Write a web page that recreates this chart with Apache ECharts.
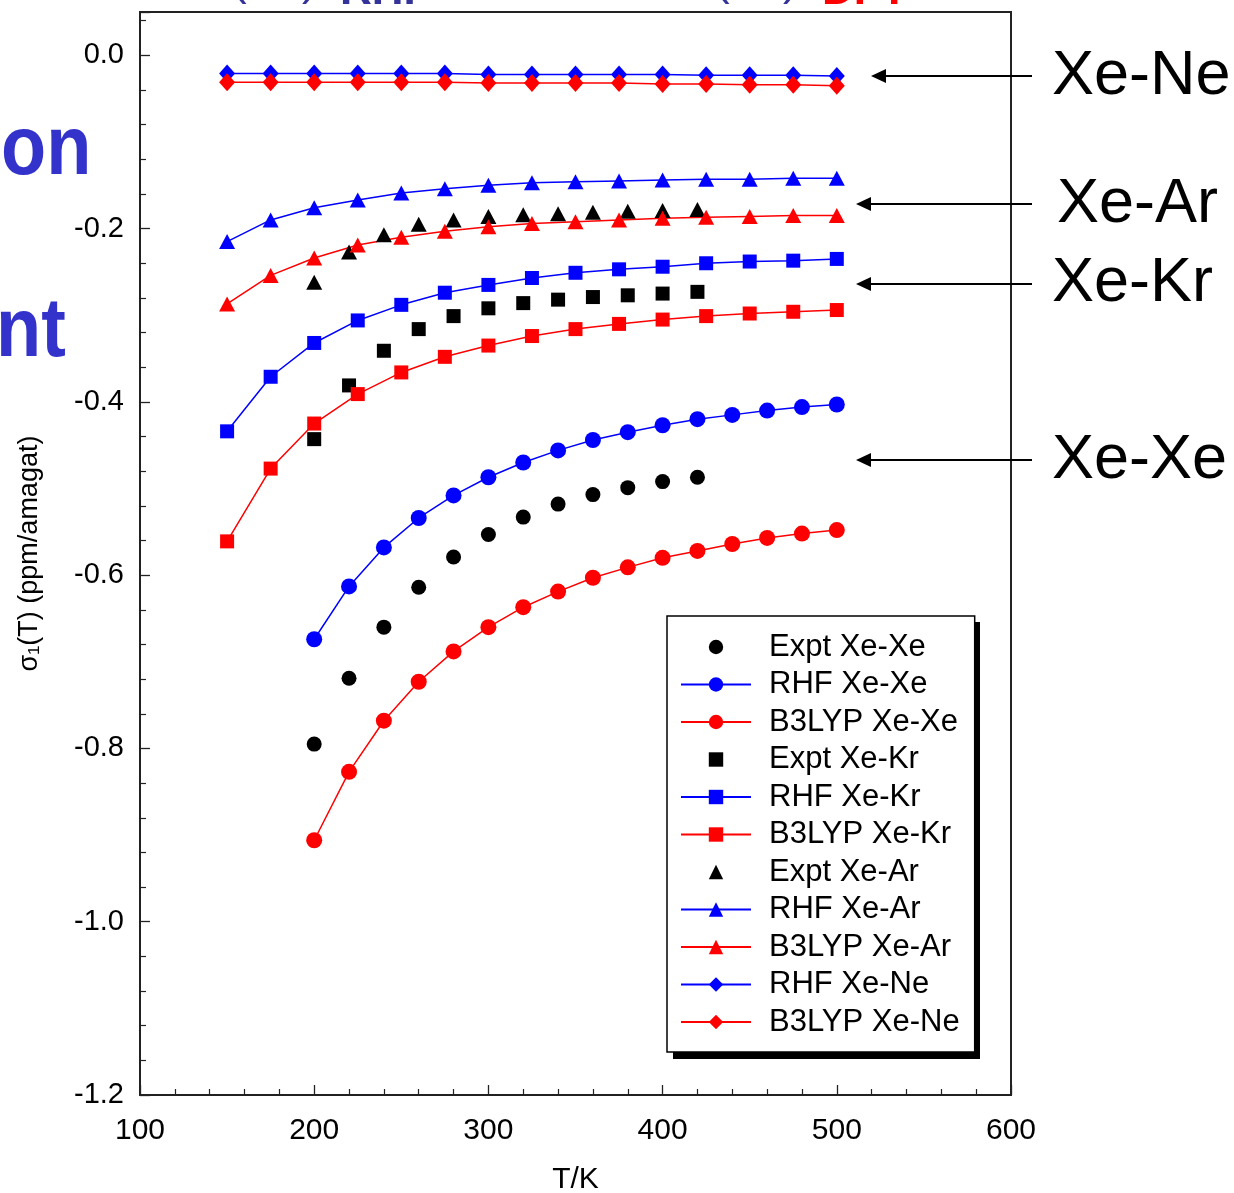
<!DOCTYPE html>
<html>
<head>
<meta charset="utf-8">
<script src="https://cdn.jsdelivr.net/npm/echarts@6/dist/echarts.min.js"></script>
<style>html,body{margin:0;padding:0;background:#fff;}#c{width:1234px;height:1193px;}</style>
</head>
<body>
<div id="c"></div>
<script>
// Temperatures (K)
var T_calc = [150,175,200,225,250,275,300,325,350,375,400,425,450,475,500];
var T_xe   = [200,220,240,260,280,300,320,340,360,380,400,420,440,460,480,500];
var T_expt = [200,220,240,260,280,300,320,340,360,380,400,420];

// Xe-Xe
var exptXeXe  = [-0.795,-0.719,-0.660,-0.614,-0.579,-0.553,-0.533,-0.518,-0.507,-0.499,-0.492,-0.487];
var rhfXeXe   = [-0.674,-0.613,-0.568,-0.534,-0.508,-0.487,-0.470,-0.456,-0.444,-0.435,-0.427,-0.420,-0.415,-0.410,-0.406,-0.403];
var b3lypXeXe = [-0.906,-0.827,-0.768,-0.723,-0.688,-0.660,-0.637,-0.619,-0.603,-0.591,-0.580,-0.572,-0.564,-0.557,-0.552,-0.548];
// Xe-Kr
var exptXeKr  = [-0.443,-0.381,-0.341,-0.316,-0.301,-0.292,-0.286,-0.282,-0.279,-0.277,-0.275,-0.273];
var rhfXeKr   = [-0.434,-0.371,-0.332,-0.306,-0.288,-0.274,-0.265,-0.257,-0.251,-0.247,-0.244,-0.240,-0.238,-0.237,-0.235];
var b3lypXeKr = [-0.561,-0.477,-0.425,-0.391,-0.366,-0.348,-0.335,-0.324,-0.316,-0.310,-0.305,-0.301,-0.298,-0.296,-0.294];
// Xe-Ar
var exptXeAr  = [-0.262,-0.227,-0.207,-0.195,-0.190,-0.186,-0.184,-0.183,-0.181,-0.180,-0.179,-0.178];
var rhfXeAr   = [-0.215,-0.190,-0.176,-0.167,-0.159,-0.154,-0.150,-0.147,-0.146,-0.145,-0.144,-0.143,-0.143,-0.142,-0.142];
var b3lypXeAr = [-0.287,-0.254,-0.234,-0.219,-0.210,-0.203,-0.198,-0.194,-0.192,-0.190,-0.188,-0.187,-0.186,-0.185,-0.185];
// Xe-Ne
var rhfXeNe   = [-0.021,-0.021,-0.021,-0.021,-0.021,-0.021,-0.022,-0.022,-0.022,-0.022,-0.022,-0.023,-0.023,-0.023,-0.024];
var b3lypXeNe = [-0.031,-0.031,-0.031,-0.031,-0.031,-0.031,-0.032,-0.032,-0.032,-0.032,-0.033,-0.033,-0.034,-0.034,-0.035];

var xTicks = [100,200,300,400,500,600];
var yTicks = [-1.2,-1.0,-0.8,-0.6,-0.4,-0.2,0.0];

var FONT = '"Liberation Sans", Arial, sans-serif';
function pairs(xs, ys){ return ys.map(function(v,i){ return [xs[i], v]; }); }

function mk(name, xs, ys, color, symbol, size, expt){
  return {
    name: name, type: 'line', data: pairs(xs, ys),
    symbol: symbol, symbolSize: size, showAllSymbol: true,
    itemStyle: {color: color, opacity: 1},
    lineStyle: {color: color, width: 1.5, opacity: expt ? 0 : 1},
    emphasis: {disabled: true}, silent: true, animation: false, z: 3
  };
}
var BLUE = '#0000ff', RED = '#ff0000', BLACK = '#000000';
var series = [
  mk('Expt Xe-Xe', T_expt, exptXeXe, BLACK, 'circle', 15, true),
  mk('RHF Xe-Xe', T_xe, rhfXeXe, BLUE, 'circle', 16),
  mk('B3LYP Xe-Xe', T_xe, b3lypXeXe, RED, 'circle', 16),
  mk('Expt Xe-Kr', T_expt, exptXeKr, BLACK, 'rect', 14, true),
  mk('RHF Xe-Kr', T_calc, rhfXeKr, BLUE, 'rect', 14),
  mk('B3LYP Xe-Kr', T_calc, b3lypXeKr, RED, 'rect', 14),
  mk('Expt Xe-Ar', T_expt, exptXeAr, BLACK, 'triangle', [16,15], true),
  mk('RHF Xe-Ar', T_calc, rhfXeAr, BLUE, 'triangle', [16,15]),
  mk('B3LYP Xe-Ar', T_calc, b3lypXeAr, RED, 'triangle', [16,15]),
  mk('RHF Xe-Ne', T_calc, rhfXeNe, BLUE, 'diamond', [16,18]),
  mk('B3LYP Xe-Ne', T_calc, b3lypXeNe, RED, 'diamond', [16,18])
];

function arrow(x1, x2, y){
  return [
    {type:'line', shape:{x1:x1, y1:y, x2:x2+12, y2:y}, style:{stroke:'#000', lineWidth:1.8}, silent:true},
    {type:'polygon', shape:{points:[[x2,y],[x2+15,y-7],[x2+15,y+7]]}, style:{fill:'#000'}, silent:true}
  ];
}
var annot = [].concat(
  arrow(1032, 871, 76), arrow(1032, 856, 204), arrow(1032, 856, 284), arrow(1032, 856, 460)
);
var texts = [
  {type:'text', x:1052, y:77, style:{text:'Xe-Ne', font:'63px ' + FONT, fill:'#000', verticalAlign:'middle'}, silent:true},
  {type:'text', x:1057, y:205, style:{text:'Xe-Ar', font:'63px ' + FONT, fill:'#000', verticalAlign:'middle'}, silent:true},
  {type:'text', x:1052, y:284, style:{text:'Xe-Kr', font:'63px ' + FONT, fill:'#000', verticalAlign:'middle'}, silent:true},
  {type:'text', x:1052, y:461, style:{text:'Xe-Xe', font:'63px ' + FONT, fill:'#000', verticalAlign:'middle'}, silent:true},
  {type:'text', x:1, y:151, scaleX:0.88, style:{text:'on', font:'bold 84px ' + FONT, fill:'#3333cc', verticalAlign:'middle'}, silent:true},
  {type:'text', x:-4, y:333, scaleX:0.88, style:{text:'nt', font:'bold 84px ' + FONT, fill:'#3333cc', verticalAlign:'middle'}, silent:true},
  {type:'text', x:232, y:-17, style:{text:'(', font:'44px ' + FONT, fill:'#333399', verticalAlign:'middle'}, silent:true},
  {type:'text', x:302, y:-17, style:{text:')', font:'44px ' + FONT, fill:'#333399', verticalAlign:'middle'}, silent:true},
  {type:'text', x:340, y:-8, style:{text:'RHF', font:'bold 44px ' + FONT, fill:'#333399', verticalAlign:'middle'}, silent:true},
  {type:'text', x:715, y:-17, style:{text:'(', font:'44px ' + FONT, fill:'#333399', verticalAlign:'middle'}, silent:true},
  {type:'text', x:783, y:-17, style:{text:')', font:'44px ' + FONT, fill:'#333399', verticalAlign:'middle'}, silent:true},
  {type:'text', x:822, y:-8, style:{text:'DFT', font:'bold 44px ' + FONT, fill:'#ff0000', verticalAlign:'middle'}, silent:true},
  // legend drop shadow
  {type:'rect', z:1, shape:{x:673, y:622, width:307, height:437}, style:{fill:'#000'}, silent:true}
];

var chart = echarts.init(document.getElementById('c'), null, {renderer:'canvas'});
chart.setOption({
  animation: false,
  backgroundColor: '#fff',
  grid: {left:140, right:223, top:12, bottom:98, containLabel:false, outerBoundsMode:'none',
         show:true, borderColor:'#222', borderWidth:2, backgroundColor:'transparent'},
  xAxis: {
    type:'value', min:xTicks[0], max:xTicks[xTicks.length-1], interval:100,
    name:'T/K', nameLocation:'middle', nameGap:70,
    nameTextStyle:{fontSize:30, fontFamily:FONT, color:'#000'},
    axisLine:{show:true, onZero:false, lineStyle:{color:'#222', width:1.5}},
    axisTick:{show:true, inside:true, length:10, lineStyle:{color:'#222', width:1.3}},
    minorTick:{show:true, splitNumber:5, length:6, lineStyle:{color:'#222', width:1.2}},
    axisLabel:{fontSize:30, fontFamily:FONT, color:'#000', margin:21},
    splitLine:{show:false}
  },
  yAxis: {
    type:'value', min:yTicks[0], max:0.05, interval:0.2,
    name:'σ₁(T) (ppm/amagat)', nameLocation:'middle', nameGap:97,
    nameTextStyle:{fontSize:27, fontFamily:FONT, color:'#000'},
    axisLine:{show:true, onZero:false, lineStyle:{color:'#222', width:1.5}},
    axisTick:{show:true, inside:true, length:10, lineStyle:{color:'#222', width:1.3}},
    minorTick:{show:true, splitNumber:5, length:6, lineStyle:{color:'#222', width:1.2}},
    axisLabel:{fontSize:29, fontFamily:FONT, color:'#000', margin:16, showMaxLabel:false,
      formatter:function(v){ return Math.abs(v*5 - Math.round(v*5)) > 1e-6 ? '' : v.toFixed(1); }},
    splitLine:{show:false}
  },
  legend: {
    orient:'vertical', left:667, top:616, z:5,
    itemWidth:70, itemHeight:18, itemGap:3.5,
    padding:[14,15,13,13],
    backgroundColor:'#fff', borderColor:'#000', borderWidth:1.5,
    textStyle:{fontSize:31, fontFamily:FONT, color:'#000', lineHeight:34, padding:[0,0,0,13]},
    selectedMode:false,
    data: series.map(function(s){ return s.name; })
  },
  graphic: annot.concat(texts),
  series: series
});
</script>
</body>
</html>
